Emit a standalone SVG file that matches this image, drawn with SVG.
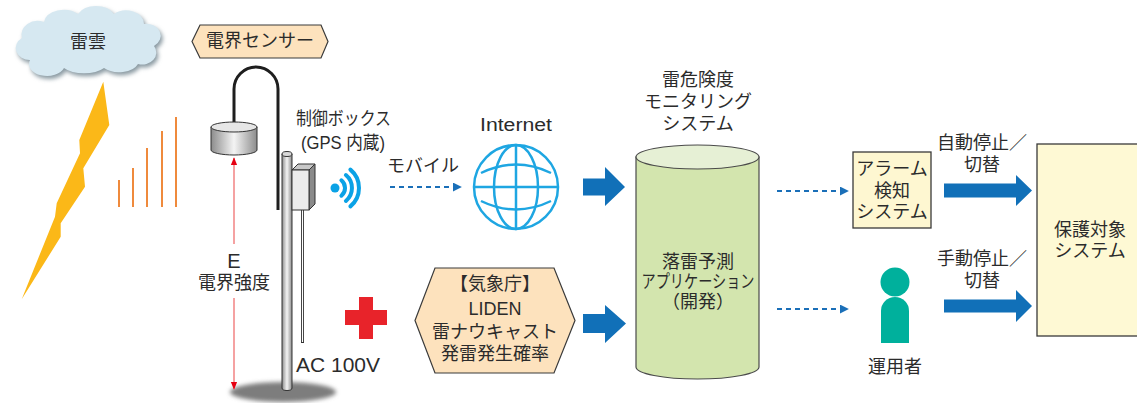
<svg xmlns="http://www.w3.org/2000/svg" width="1137" height="403" viewBox="0 0 1137 403">
  <style>
    text { font-family: "Liberation Sans", "Noto Sans CJK JP", sans-serif; font-size: 18px; fill: #2b2b2b; text-anchor: middle; dominant-baseline: central; }
    .hex { fill: #fde2bd; stroke: #3a3a3a; stroke-width: 1.2; }
    .box { stroke: #3a3a3a; stroke-width: 1.3; }
    .dash { stroke: #1a6fb8; stroke-width: 1.8; stroke-dasharray: 5 4; fill: none; }
    .bigarrow { fill: #1170b8; }
    .globe { fill: none; stroke: #1ea6e2; stroke-width: 2.5; }
    .wave { fill: none; stroke: #0aa2e6; stroke-width: 4; stroke-linecap: round; }
    .bar { stroke: #ef8a3c; stroke-width: 2; }
    .eline { stroke: #f38b8b; stroke-width: 1.6; }
  </style>
  <defs>
    <marker id="dashHead" viewBox="0 0 10 10" refX="9" refY="5" markerWidth="5" markerHeight="5" orient="auto">
      <path d="M0 0 L10 5 L0 10 Z" fill="#1a6fb8"/>
    </marker>
    <marker id="redHead" viewBox="0 0 10 10" refX="9" refY="5" markerWidth="5" markerHeight="5" orient="auto">
      <path d="M0 1 L10 5 L0 9 Z" fill="#e60012"/>
    </marker>
    <linearGradient id="metal" x1="0" y1="0" x2="1" y2="0">
      <stop offset="0" stop-color="#8c8c8c"/>
      <stop offset="0.5" stop-color="#f4f4f4"/>
      <stop offset="1" stop-color="#8c8c8c"/>
    </linearGradient>
    <filter id="soft" x="-20%" y="-50%" width="140%" height="200%">
      <feGaussianBlur stdDeviation="2"/>
    </filter>
  </defs>

  <!-- thundercloud -->
  <g id="cloud">
    <path d="M30 60 a14 12 0 0 1 -8 -22 a16 14 0 0 1 22 -16 a20 14 0 0 1 34 -8 a20 14 0 0 1 36 0 a18 14 0 0 1 30 10 a14 12 0 0 1 10 22 a14 12 0 0 1 -16 18 a20 12 0 0 1 -34 4 a24 12 0 0 1 -40 0 a18 12 0 0 1 -34 -8 Z" transform="translate(2,3)" fill="#8a9aa2" filter="url(#soft)"/>
    <path d="M30 60 a14 12 0 0 1 -8 -22 a16 14 0 0 1 22 -16 a20 14 0 0 1 34 -8 a20 14 0 0 1 36 0 a18 14 0 0 1 30 10 a14 12 0 0 1 10 22 a14 12 0 0 1 -16 18 a20 12 0 0 1 -34 4 a24 12 0 0 1 -40 0 a18 12 0 0 1 -34 -8 Z" fill="#d6e8f1"/>
    <text x="88" y="42">雷雲</text>
  </g>

  <!-- lightning bolt and field bars -->
  <g id="lightning">
    <polygon points="103.3,81.7 109.3,125 83.3,168.3 85,186.7 60.7,223.3 60.7,236.7 21.7,299.3 55,216.7 56.7,203.3 80,153.3 79.3,140" fill="#fbb818"/>
    <line class="bar" x1="119" y1="207" x2="119" y2="180"/>
    <line class="bar" x1="133" y1="207" x2="133" y2="168"/>
    <line class="bar" x1="147" y1="207" x2="147" y2="148"/>
    <line class="bar" x1="162" y1="207" x2="162" y2="131"/>
    <line class="bar" x1="176" y1="207" x2="176" y2="117"/>
  </g>

  <!-- field sensor label -->
  <g id="sensor-label">
    <polygon class="hex" points="192,41.5 200,25 321,25 328,41.5 321,58 200,58"/>
    <text x="260" y="41">電界センサー</text>
  </g>

  <!-- field sensor hardware -->
  <g id="sensor">
    <ellipse cx="283" cy="392" rx="53" ry="10" fill="#7d7d7d" filter="url(#soft)"/>
    <!-- pole -->
    <path d="M282 154 V388 a5 2.5 0 0 0 10 0 V154 Z" fill="url(#metal)" stroke="#333" stroke-width="1"/>
    <ellipse cx="287" cy="154" rx="5" ry="2.5" fill="#d8d8d8" stroke="#333" stroke-width="1"/>
    <!-- cable -->
    <path d="M234 124 V89 A22 22 0 0 1 278 89 V210" fill="none" stroke="#1e1e1e" stroke-width="3"/>
    <!-- probe disk -->
    <path d="M211 127 V150 A23 5 0 0 0 257 150 V127 Z" fill="url(#metal)" stroke="#333" stroke-width="1"/>
    <ellipse cx="234" cy="127" rx="23" ry="5" fill="#e6e6e6" stroke="#333" stroke-width="1"/>
    <!-- control box -->
    <line x1="302.5" y1="209" x2="302.5" y2="343" stroke="#333" stroke-width="3"/>
    <line x1="302.5" y1="209" x2="302.5" y2="342" stroke="#fff" stroke-width="1.2"/>
    <polygon points="292,170 298,164 315,164 309,170" fill="#c8c8c8" stroke="#333" stroke-width="1"/>
    <polygon points="309,170 315,164 315,204 309,210" fill="#8a8a8a" stroke="#333" stroke-width="1"/>
    <rect x="292" y="170" width="17" height="40" fill="#ececec" stroke="#333" stroke-width="1"/>
    <!-- wireless signal -->
    <circle cx="335" cy="188" r="4.5" fill="#0aa2e6"/>
    <path class="wave" d="M341.4 180.3 A10 10 0 0 1 341.4 195.7"/>
    <path class="wave" d="M345.9 175 A17 17 0 0 1 345.9 201"/>
    <path class="wave" d="M350.4 169.6 A24 24 0 0 1 350.4 206.4"/>
    <text x="343.5" y="119" textLength="95" lengthAdjust="spacingAndGlyphs">制御ボックス</text>
    <text x="343" y="143" textLength="84" lengthAdjust="spacingAndGlyphs">(GPS 内蔵)</text>
    <text x="338" y="365" style="font-size:20px" textLength="84" lengthAdjust="spacingAndGlyphs">AC 100V</text>
  </g>

  <!-- field strength measure -->
  <g id="field-strength">
    <line class="eline" x1="234" y1="244" x2="234" y2="158" marker-end="url(#redHead)"/>
    <line class="eline" x1="234" y1="298" x2="234" y2="389" marker-end="url(#redHead)"/>
    <text x="234" y="261" style="font-size:20px">E</text>
    <text x="234" y="283">電界強度</text>
  </g>

  <!-- power symbol -->
  <g id="power">
    <rect x="359" y="297" width="14" height="42" fill="#e8232a"/>
    <rect x="345" y="310" width="42" height="15" fill="#e8232a"/>
  </g>

  <!-- internet -->
  <g id="internet">
    <text x="516" y="125" textLength="72" lengthAdjust="spacingAndGlyphs">Internet</text>
    <circle class="globe" cx="516" cy="187" r="42"/>
    <ellipse class="globe" cx="516" cy="187" rx="22" ry="42"/>
    <line class="globe" x1="516" y1="145" x2="516" y2="229"/>
    <line class="globe" x1="474" y1="187" x2="558" y2="187"/>
    <path class="globe" d="M481 173 Q516 156 551 173"/>
    <path class="globe" d="M481 201 Q516 218 551 201"/>
  </g>

  <!-- LIDEN nowcast -->
  <g id="liden">
    <polygon class="hex" points="415,320.5 435,268 554,268 575,320.5 554,373 435,373"/>
    <text x="495" y="284">【気象庁】</text>
    <text x="495" y="309">LIDEN</text>
    <text x="495" y="332">雷ナウキャスト</text>
    <text x="495" y="354">発雷発生確率</text>
  </g>

  <!-- monitoring system -->
  <g id="monitoring">
    <text x="698" y="80">雷危険度</text>
    <text x="698" y="102">モニタリング</text>
    <text x="698" y="124">システム</text>
    <path d="M636 157 V367 A61.5 12 0 0 0 759 367 V157 Z" fill="#d3e5ae" stroke="#4a4a4a" stroke-width="1.2"/>
    <ellipse cx="697.5" cy="157" rx="61.5" ry="12" fill="#e6f0d5" stroke="#4a4a4a" stroke-width="1.2"/>
    <text x="698" y="262">落雷予測</text>
    <text x="698" y="282" textLength="113" lengthAdjust="spacingAndGlyphs">アプリケーション</text>
    <text x="698" y="302">（開発）</text>
  </g>

  <!-- alarm detection -->
  <g id="alarm">
    <rect class="box" x="853" y="152" width="78" height="76" fill="#fef7d1"/>
    <text x="892" y="169">アラーム</text>
    <text x="892" y="191">検知</text>
    <text x="892" y="212">システム</text>
  </g>

  <!-- operator -->
  <g id="operator">
    <circle cx="895" cy="282" r="14.5" fill="#00b09c"/>
    <path d="M881 343 V311 A14 14 0 0 1 909 311 V343 Z" fill="#00b09c"/>
    <text x="895" y="367">運用者</text>
  </g>

  <!-- protected system -->
  <g id="protected">
    <rect class="box" x="1037" y="144" width="102" height="192" fill="#fef9d4"/>
    <text x="1090" y="230">保護対象</text>
    <text x="1090" y="251">システム</text>
  </g>

  <!-- connectors -->
  <g id="connectors">
    <text x="423" y="166">モバイル</text>
    <line class="dash" x1="390" y1="187" x2="461" y2="187" marker-end="url(#dashHead)"/>
    <polygon class="bigarrow" points="583,178.5 605,178.5 605,167 625,187 605,206 605,195.5 583,195.5"/>
    <polygon class="bigarrow" points="583,314 605,314 605,305 626,323.5 605,343 605,333 583,333"/>
    <line class="dash" x1="777" y1="191" x2="848" y2="191" marker-end="url(#dashHead)"/>
    <line class="dash" x1="777" y1="309" x2="848" y2="309" marker-end="url(#dashHead)"/>
    <polygon class="bigarrow" points="944,183.5 1016,183.5 1016,175 1032,190.5 1016,206 1016,197.5 944,197.5"/>
    <polygon class="bigarrow" points="944,299.5 1016,299.5 1016,290 1032,306 1016,322 1016,312.5 944,312.5"/>
    <text x="982" y="143">自動停止／</text>
    <text x="982" y="165">切替</text>
    <text x="982" y="259">手動停止／</text>
    <text x="982" y="281">切替</text>
  </g>
</svg>
